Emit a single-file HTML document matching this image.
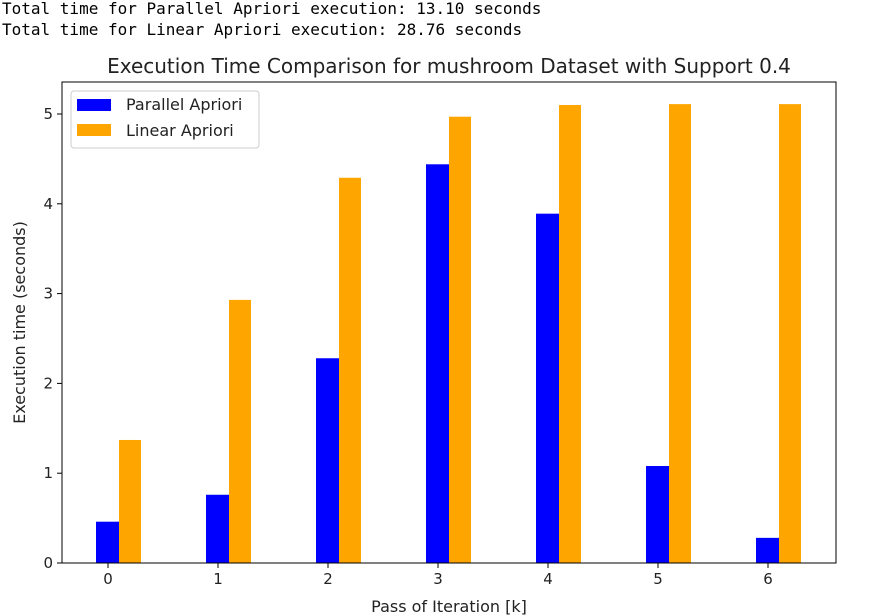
<!DOCTYPE html>
<html><head><meta charset="utf-8"><style>
body{margin:0;background:#fff;width:876px;height:616px;overflow:hidden}
pre{margin:0;position:absolute;left:2px;font:16px "DejaVu Sans Mono","Liberation Mono",monospace;color:#000;line-height:21px}
svg{position:absolute;left:0;top:0}
text{font-family:"DejaVu Sans","Liberation Sans",sans-serif;fill:#222}
</style></head><body>
<pre style="top:-2px">Total time for Parallel Apriori execution: 13.10 seconds</pre>
<pre style="top:19px">Total time for Linear Apriori execution: 28.76 seconds</pre>
<svg id="c" width="876" height="616"></svg>
<script>
const categories=[0,1,2,3,4,5,6];
const parallelValues=[0.46,0.76,2.28,4.44,3.89,1.08,0.28];
const linearValues=[1.37,2.93,4.29,4.97,5.10,5.11,5.11];
const yTicks=[0,1,2,3,4,5];
const L=62,R=836,T=82,B=563;
const x=v=>108+(v)*110;
const y=v=>B-v*89.8;
const svg=document.getElementById('c');
const NS='http://www.w3.org/2000/svg';
function mk(t,a,txt){const e=document.createElementNS(NS,t);for(const k in a)e.setAttribute(k,a[k]);if(txt!==undefined)e.textContent=txt;svg.appendChild(e);return e;}
const bw=22;
categories.forEach((c,i)=>{
 let b=mk('rect',{x:x(c)-12,y:y(parallelValues[i]),width:bw+1,height:B-y(parallelValues[i]),fill:'#0000ff'});
 
 
 let o=mk('rect',{x:x(c)+11,y:y(linearValues[i]),width:bw,height:B-y(linearValues[i]),fill:'#ffa500'});
 
 
 mk('line',{x1:x(c),x2:x(c),y1:B,y2:B+5,stroke:'#000'});
 let tl=mk('text',{x:x(c),y:B+21,'text-anchor':'middle','font-size':15},String(c));
 
 
});
yTicks.forEach(v=>{
 mk('line',{x1:L-5,x2:L,y1:y(v),y2:y(v),stroke:'#000'});
 let tl=mk('text',{x:L-9,y:y(v)+5,'text-anchor':'end','font-size':15},String(v));
 
 
});
let f=mk('rect',{x:L,y:T,width:R-L,height:B-T,fill:'none',stroke:'#000','stroke-width':1});


let ti=mk('text',{x:449,y:73,'text-anchor':'middle','font-size':20},'Execution Time Comparison for mushroom Dataset with Support 0.4');


let xt=mk('text',{x:(L+R)/2,y:612,'text-anchor':'middle','font-size':16},'Pass of Iteration [k]');


let yt=mk('text',{x:0,y:0,'text-anchor':'middle','font-size':16,transform:`translate(25,${(T+B)/2}) rotate(-90)`},'Execution time (seconds)');


let lg=mk('rect',{x:71,y:91,width:188,height:57,fill:'#fff',stroke:'#ccc',rx:3});


mk('rect',{x:77,y:99,width:34,height:12,fill:'#0000ff'});
mk('rect',{x:77,y:124,width:34,height:12,fill:'#ffa500'});
let l1=mk('text',{x:126,y:110,'font-size':16},'Parallel Apriori');


let l2=mk('text',{x:126,y:136,'font-size':16},'Linear Apriori');


</script>
</body></html>
